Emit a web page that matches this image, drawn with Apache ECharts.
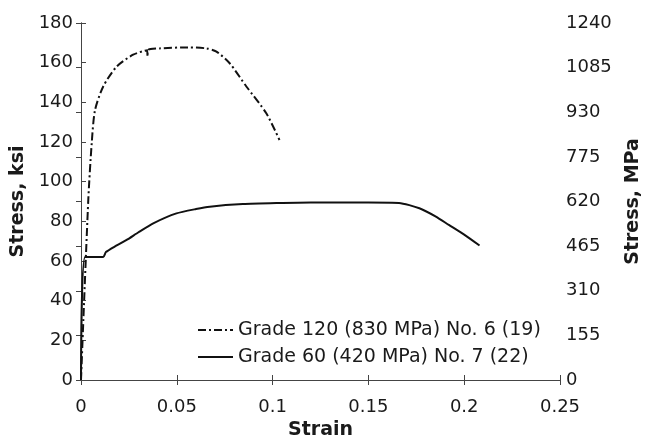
<!DOCTYPE html>
<html><head><meta charset="utf-8">
<script src="https://cdn.jsdelivr.net/npm/echarts@6/dist/echarts.min.js"></script>
<style>html,body{margin:0;padding:0;background:#fff}#c{width:649px;height:441px}</style>
</head><body><div id="c"></div>
<script>
const xTicks = [0, 0.05, 0.1, 0.15, 0.2, 0.25];
const seriesNames = ['Grade 120 (830 MPa) No. 6 (19)', 'Grade 60 (420 MPa) No. 7 (22)'];
const grade120Strain = [0, 0.0038, 0.0056, 0.0073, 0.0116, 0.0186, 0.0272, 0.0345, 0.0347, 0.0350, 0.041, 0.0559, 0.0654, 0.0707, 0.0776, 0.0863, 0.0967, 0.1036];
const grade120Stress = [0, 90.8, 119.5, 136, 148, 158, 164, 166.3, 163, 166.4, 167.2, 167.7, 167.2, 165.6, 159.7, 148, 134.5, 121];
const grade60Strain = [0, 0.0021, 0.0116, 0.013, 0.018, 0.0238, 0.03, 0.0377, 0.0498, 0.06, 0.0672, 0.0845, 0.102, 0.12, 0.15, 0.166, 0.1766, 0.185, 0.192, 0.2, 0.208];
const grade60Stress = [0, 62, 62, 64.5, 67.5, 70.6, 74.5, 79, 84, 86.2, 87.4, 88.7, 89.2, 89.5, 89.5, 89.3, 86.6, 82.5, 78.2, 73.3, 67.8];

const pair = (xs, ys) => xs.map((x, i) => [x, ys[i]]);
const axisColor = '#444';
const txt = '#1a1a1a';
const font = 'DejaVu Sans';
const chart = echarts.init(document.getElementById('c'), null, {renderer: 'canvas'});
const dashDotIcon = 'path://M0,0h8v2h-8z M11,0h2v2h-2z M16,0h8v2h-8z M27,0h2v2h-2z M32,0h3v2h-3z';
chart.setOption({
  animation: false,
  backgroundColor: '#fff',
  grid: {left: 81, right: 89, top: 23, bottom: 61, containLabel: false, outerBoundsMode: 'none'},
  legend: {
    orient: 'vertical', left: 193, top: 315, itemWidth: 35, itemHeight: 2, itemGap: 7,
    textStyle: {fontFamily: font, fontSize: 19, lineHeight: 20, color: txt},
    data: [
      {name: seriesNames[0], icon: dashDotIcon, itemStyle: {color: '#111'}},
      {name: seriesNames[1], icon: 'path://M0,0h35v2h-35z', itemStyle: {color: '#111'}}
    ]
  },
  xAxis: [{
    type: 'value', min: 0, max: 0.25, interval: 0.05,
    name: 'Strain', nameLocation: 'middle', nameGap: 41,
    nameTextStyle: {fontFamily: font, fontSize: 19, fontWeight: 'bold', color: txt},
    axisLine: {show: true, lineStyle: {color: axisColor, width: 1}},
    axisTick: {show: true, inside: true, length: 5, lineStyle: {color: axisColor}},
    axisLabel: {fontFamily: font, fontSize: 18, color: txt, margin: 18, formatter: v => String(+(+v).toFixed(2))},
    splitLine: {show: false}
  }, {
    type: 'value', min: 0, max: 0.25, interval: 0.05, position: 'top',
    axisLine: {show: true, lineStyle: {color: axisColor, width: 1}},
    axisTick: {show: true, inside: true, length: 5, lineStyle: {color: axisColor}},
    axisLabel: {show: false}, splitLine: {show: false}
  }],
  yAxis: [{
    type: 'value', min: 0, max: 180, interval: 20, position: 'left',
    name: 'Stress, ksi', nameLocation: 'middle', nameGap: 45,
    nameTextStyle: {fontFamily: font, fontSize: 19, fontWeight: 'bold', color: txt},
    axisLine: {show: true, lineStyle: {color: axisColor, width: 1}},
    axisTick: {show: true, inside: true, length: 5, lineStyle: {color: axisColor}},
    axisLabel: {fontFamily: font, fontSize: 18, color: txt, margin: 8},
    splitLine: {show: false}
  }, {
    type: 'value', min: 0, max: 1240, interval: 155, position: 'right',
    name: 'Stress, MPa', nameLocation: 'middle', nameGap: 64,
    nameTextStyle: {fontFamily: font, fontSize: 19, fontWeight: 'bold', color: txt},
    axisLine: {show: true, lineStyle: {color: axisColor, width: 1}},
    axisTick: {show: true, inside: true, length: 5, lineStyle: {color: axisColor}},
    axisLabel: {fontFamily: font, fontSize: 18, color: txt, margin: 6, formatter: v => String(v)},
    splitLine: {show: false}
  }],
  series: [{
    name: seriesNames[0], type: 'line', xAxisIndex: 0, yAxisIndex: 0,
    data: pair(grade120Strain, grade120Stress), showSymbol: false, symbol: 'none', smooth: 0.25,
    lineStyle: {color: '#111', width: 2, type: [8, 3, 2, 3]}, itemStyle: {color: '#111'}
  }, {
    name: seriesNames[1], type: 'line', xAxisIndex: 0, yAxisIndex: 0,
    data: pair(grade60Strain, grade60Stress), showSymbol: false, symbol: 'none', smooth: 0.2,
    lineStyle: {color: '#111', width: 2}, itemStyle: {color: '#111'}
  }]
});
</script></body></html>
